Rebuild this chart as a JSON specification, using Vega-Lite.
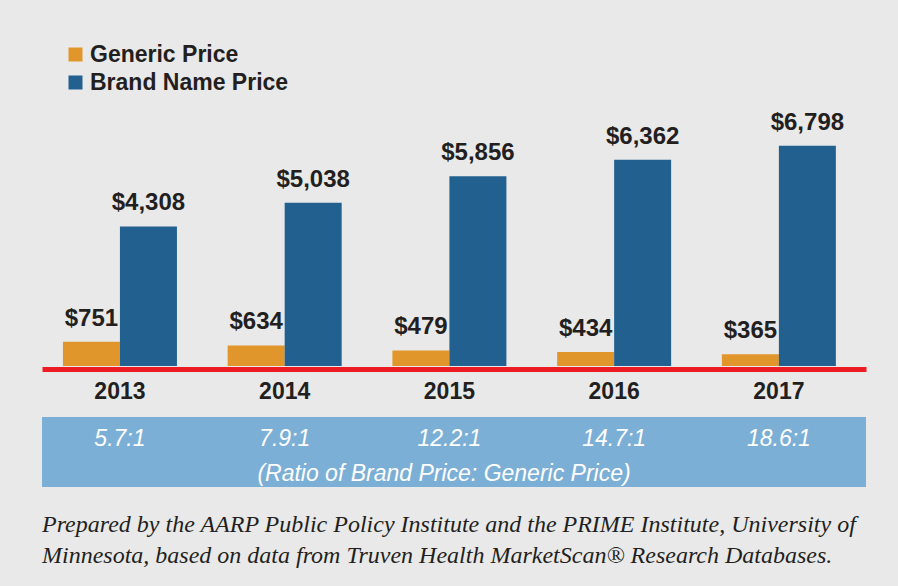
{
  "$schema": "https://vega.github.io/schema/vega-lite/v6.json",
  "background": "#e9e9e9",
  "padding": {"left": 42, "top": 42, "right": 32, "bottom": 30},
  "config": {"view": {"stroke": null}, "font": "Liberation Sans"},
  "title": {
    "text": [
      "Prepared by the AARP Public Policy Institute and the PRIME Institute, University of",
      "Minnesota, based on data from Truven Health MarketScan® Research Databases."
    ],
    "orient": "bottom",
    "anchor": "start",
    "font": "Liberation Serif",
    "fontStyle": "italic",
    "fontWeight": "normal",
    "fontSize": 24,
    "color": "#231f20",
    "lineHeight": 31,
    "offset": 26
  },
  "spacing": 14,
  "vconcat": [
    {
      "width": 824,
      "height": 324,
      "data": {
        "values": [
          {"year": "2013", "series": "Generic Price", "value": 751},
          {"year": "2013", "series": "Brand Name Price", "value": 4308},
          {"year": "2014", "series": "Generic Price", "value": 634},
          {"year": "2014", "series": "Brand Name Price", "value": 5038},
          {"year": "2015", "series": "Generic Price", "value": 479},
          {"year": "2015", "series": "Brand Name Price", "value": 5856},
          {"year": "2016", "series": "Generic Price", "value": 434},
          {"year": "2016", "series": "Brand Name Price", "value": 6362},
          {"year": "2017", "series": "Generic Price", "value": 365},
          {"year": "2017", "series": "Brand Name Price", "value": 6798}
        ]
      },
      "encoding": {
        "x": {
          "field": "year",
          "type": "nominal",
          "scale": {"type": "band", "paddingInner": 0.308, "paddingOuter": 0.155, "align": 0.41},
          "axis": {
            "title": null,
            "ticks": false,
            "domainColor": "#ed1c24",
            "domainWidth": 5,
            "offset": 3,
            "labelFont": "Liberation Sans",
            "labelFontSize": 23,
            "labelFontWeight": "bold",
            "labelColor": "#231f20",
            "labelPadding": 11,
            "labelAngle": 0
          }
        },
        "xOffset": {
          "field": "series",
          "type": "nominal",
          "scale": {"domain": ["Generic Price", "Brand Name Price"], "padding": 0}
        },
        "y": {
          "field": "value",
          "type": "quantitative",
          "scale": {"domain": [0, 10000]},
          "axis": null
        }
      },
      "layer": [
        {
          "mark": {"type": "bar"},
          "encoding": {
            "color": {
              "field": "series",
              "type": "nominal",
              "scale": {"domain": ["Generic Price", "Brand Name Price"], "range": ["#e0962a", "#22608f"]},
              "legend": {
                "orient": "none",
                "legendX": 22,
                "legendY": 1,
                "title": null,
                "symbolType": "square",
                "symbolSize": 196,
                "symbolStrokeWidth": 0,
                "symbolOpacity": 1,
                "labelFont": "Liberation Sans",
                "labelFontSize": 23,
                "labelFontWeight": "bold",
                "labelColor": "#231f20",
                "labelOffset": 3,
                "labelLimit": 400,
                "rowPadding": 4
              }
            }
          }
        },
        {
          "mark": {
            "type": "text",
            "dy": -16,
            "baseline": "alphabetic",
            "fontSize": 24,
            "fontWeight": "bold",
            "color": "#231f20"
          },
          "encoding": {"text": {"field": "value", "format": "$,"}}
        }
      ]
    },
    {
      "width": 824,
      "height": 70,
      "view": {"fill": "#7bafd6", "stroke": null},
      "layer": [
        {
          "data": {
            "values": [
              {"year": "2013", "row": "ratio", "ratio": "5.7:1"},
              {"year": "2014", "row": "ratio", "ratio": "7.9:1"},
              {"year": "2015", "row": "ratio", "ratio": "12.2:1"},
              {"year": "2016", "row": "ratio", "ratio": "14.7:1"},
              {"year": "2017", "row": "ratio", "ratio": "18.6:1"}
            ]
          },
          "mark": {"type": "text", "fontSize": 23, "fontStyle": "italic", "color": "white", "baseline": "middle", "dy": 4},
          "encoding": {
            "x": {
              "field": "year",
              "type": "nominal",
              "bandPosition": 0.5,
              "scale": {"type": "band", "paddingInner": 0.308, "paddingOuter": 0.155, "align": 0.41},
              "axis": null
            },
            "y": {
              "field": "row",
              "type": "nominal",
              "scale": {"type": "point", "domain": ["ratio", "caption"], "padding": 0.55},
              "axis": null
            },
            "text": {"field": "ratio"}
          }
        },
        {
          "data": {"values": [{"row": "caption", "label": "(Ratio of Brand Price: Generic Price)"}]},
          "mark": {"type": "text", "fontSize": 23, "fontStyle": "italic", "color": "white", "baseline": "middle", "dx": -10, "dy": 5},
          "encoding": {
            "y": {"field": "row", "type": "nominal"},
            "text": {"field": "label"}
          }
        }
      ]
    }
  ]
}
